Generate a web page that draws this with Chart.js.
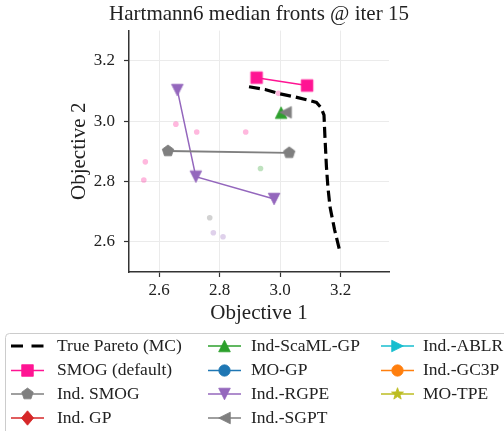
<!DOCTYPE html>
<html><head><meta charset="utf-8">
<script src="https://cdn.jsdelivr.net/npm/chart.js@4"></script>
<style>html,body{margin:0;padding:0;background:#fff}canvas{display:block}</style>
</head><body>
<canvas id="c" width="504" height="431"></canvas>
<script>
// ---- data ----
const xTicks = [2.6, 2.8, 3.0, 3.2];
const yTicks = [2.6, 2.8, 3.0, 3.2];

const paretoX = [2.897, 2.95, 2.993, 3.05, 3.09, 3.12, 3.135, 3.145, 3.148, 3.153, 3.158, 3.165, 3.18, 3.197];
const paretoY = [3.114, 3.105, 3.092, 3.08, 3.07, 3.062, 3.045, 3.02, 2.95, 2.85, 2.78, 2.715, 2.64, 2.57];

const smogX = [2.922, 3.089];
const smogY = [3.144, 3.118];
const indSmogX = [2.629, 3.030];
const indSmogY = [2.901, 2.895];
const rgpeX = [2.660, 2.721, 2.980];
const rgpeY = [3.103, 2.816, 2.742];
const scamlX = [3.003];
const scamlY = [3.028];
const sgptX = [3.018];
const sgptY = [3.029];

// faint per-run points
const smogRunsX = [2.554, 2.549, 2.655, 2.724, 2.886, 2.994];
const smogRunsY = [2.865, 2.805, 2.990, 2.964, 2.964, 3.092];
const scamlRunsX = [2.935];
const scamlRunsY = [2.843];
const sgptRunsX = [2.767];
const sgptRunsY = [2.680];
const rgpeRunsX = [2.779, 2.811];
const rgpeRunsY = [2.630, 2.617];

const legendLabels = ['True Pareto (MC)', 'SMOG (default)', 'Ind. SMOG', 'Ind. GP',
  'Ind-ScaML-GP', 'MO-GP', 'Ind.-RGPE', 'Ind.-SGPT',
  'Ind.-ABLR', 'Ind.-GC3P', 'MO-TPE'];
const legendColors = ['#000000', '#ff1493', '#7f7f7f', '#d62728',
  '#2ca02c', '#1f77b4', '#9467bd', '#7f7f7f',
  '#17becf', '#ff7f0e', '#bcbd22'];
const legendMarkers = ['dash', 'square', 'pentagon', 'diamond',
  'triUp', 'circle', 'triDown', 'triLeft',
  'triRight', 'circle', 'star'];

// ---- helpers ----
const FONT = "'Liberation Serif', 'Times New Roman', serif";
const TEXT = '#222222';
function pts(xs, ys) { return xs.map((x, i) => ({x: x, y: ys[i]})); }

function shapePath(ctx, kind, cx, cy) {
  ctx.beginPath();
  if (kind === 'square') {
    const h = 5.8; ctx.rect(cx - h, cy - h, 2 * h, 2 * h);
  } else if (kind === 'pentagon') {
    const r = 6.0;
    for (let i = 0; i < 5; i++) {
      const a = -Math.PI / 2 + i * 2 * Math.PI / 5;
      const px = cx + r * Math.cos(a), py = cy + r * Math.sin(a);
      i ? ctx.lineTo(px, py) : ctx.moveTo(px, py);
    }
    ctx.closePath();
  } else if (kind === 'diamond') {
    const r = 7.2;
    ctx.moveTo(cx, cy - r); ctx.lineTo(cx + r * 0.85, cy); ctx.lineTo(cx, cy + r); ctx.lineTo(cx - r * 0.85, cy); ctx.closePath();
  } else if (kind === 'circle') {
    ctx.arc(cx, cy, 5.7, 0, Math.PI * 2);
  } else if (kind === 'star') {
    const R = 6.3, r = 2.6;
    for (let i = 0; i < 10; i++) {
      const a = -Math.PI / 2 + i * Math.PI / 5, rr = i % 2 ? r : R;
      const px = cx + rr * Math.cos(a), py = cy + rr * Math.sin(a);
      i ? ctx.lineTo(px, py) : ctx.moveTo(px, py);
    }
    ctx.closePath();
  } else {
    const s = 5.8;
    let v;
    if (kind === 'triUp') v = [[0, -s], [-s, s], [s, s]];
    else if (kind === 'triDown') v = [[0, s], [-s, -s], [s, -s]];
    else if (kind === 'triLeft') v = [[-s, 0], [s, -s], [s, s]];
    else v = [[s, 0], [-s, -s], [-s, s]];
    ctx.moveTo(cx + v[0][0], cy + v[0][1]);
    ctx.lineTo(cx + v[1][0], cy + v[1][1]);
    ctx.lineTo(cx + v[2][0], cy + v[2][1]);
    ctx.closePath();
  }
}
function makeMarker(kind, color) {
  const c = document.createElement('canvas');
  c.width = 20; c.height = 20;
  const g = c.getContext('2d');
  shapePath(g, kind, 10, 10);
  g.fillStyle = color; g.fill();
  g.lineWidth = 0.8; g.strokeStyle = color; g.stroke();
  return c;
}

const mplLegend = {
  id: 'mplLegend',
  afterDraw(chart) {
    const ctx = chart.ctx;
    ctx.save();
    // frame
    const fx = 5.5, fy = 333.5, fw = 520, fh = 120, rr = 4;
    ctx.beginPath();
    ctx.moveTo(fx + rr, fy); ctx.lineTo(fx + fw - rr, fy); ctx.arcTo(fx + fw, fy, fx + fw, fy + rr, rr);
    ctx.lineTo(fx + fw, fy + fh - rr); ctx.arcTo(fx + fw, fy + fh, fx + fw - rr, fy + fh, rr);
    ctx.lineTo(fx + rr, fy + fh); ctx.arcTo(fx, fy + fh, fx, fy + fh - rr, rr);
    ctx.lineTo(fx, fy + rr); ctx.arcTo(fx, fy, fx + rr, fy, rr);
    ctx.closePath();
    ctx.fillStyle = 'rgba(255,255,255,0.8)'; ctx.fill();
    ctx.strokeStyle = '#cccccc'; ctx.lineWidth = 1; ctx.stroke();

    const colHandle = [11, 208, 381];
    const colText = [57, 251, 423];
    const rowY = [346, 370.5, 394, 418];
    const handleLen = 33;
    ctx.font = '17.5px ' + FONT;
    ctx.textBaseline = 'middle';
    ctx.textAlign = 'left';
    legendLabels.forEach((lab, i) => {
      const col = Math.floor(i / 4), row = i % 4;
      const x0 = colHandle[col], y = rowY[row];
      const color = legendColors[i];
      ctx.beginPath();
      ctx.moveTo(x0, y); ctx.lineTo(x0 + handleLen, y);
      if (legendMarkers[i] === 'dash') {
        ctx.setLineDash([12, 8.5]); ctx.lineWidth = 3.2;
      } else {
        ctx.setLineDash([]); ctx.lineWidth = 1.6;
      }
      ctx.strokeStyle = color; ctx.stroke();
      ctx.setLineDash([]);
      if (legendMarkers[i] !== 'dash') {
        shapePath(ctx, legendMarkers[i], x0 + handleLen / 2, y);
        ctx.fillStyle = color; ctx.fill();
        ctx.lineWidth = 0.8; ctx.stroke();
      }
      ctx.fillStyle = TEXT;
      ctx.fillText(lab, colText[col], y);
    });
    ctx.restore();
  }
};

Chart.defaults.font.family = FONT;
Chart.defaults.color = TEXT;

const faint = (xs, ys, rgba) => ({
  data: pts(xs, ys), showLine: false, pointRadius: 2.8, pointBackgroundColor: rgba,
  pointBorderWidth: 0, pointBorderColor: rgba, order: 20, yAxisID: 'y'
});

new Chart(document.getElementById('c'), {
  type: 'scatter',
  data: {
    datasets: [
      faint(smogRunsX, smogRunsY, 'rgba(255,20,147,0.30)'),
      faint(scamlRunsX, scamlRunsY, 'rgba(44,160,44,0.30)'),
      faint(sgptRunsX, sgptRunsY, 'rgba(127,127,127,0.35)'),
      faint(rgpeRunsX, rgpeRunsY, 'rgba(148,103,189,0.30)'),
      { label: legendLabels[0], data: pts(paretoX, paretoY), showLine: true, pointRadius: 0,
        borderColor: '#000', borderWidth: 3.2, borderDash: [11, 5], tension: 0, order: 10, yAxisID: 'y' },
      { label: legendLabels[1], data: pts(smogX, smogY), showLine: true, borderColor: '#ff1493', borderWidth: 1.5,
        pointStyle: makeMarker('square', '#ff1493'), pointRadius: 6, order: 4, yAxisID: 'y' },
      { label: legendLabels[2], data: pts(indSmogX, indSmogY), showLine: true, borderColor: '#7f7f7f', borderWidth: 1.8,
        pointStyle: makeMarker('pentagon', '#7f7f7f'), pointRadius: 6, order: 5, yAxisID: 'y' },
      { label: legendLabels[4], data: pts(scamlX, scamlY), showLine: true, borderColor: '#2ca02c', borderWidth: 1.5,
        pointStyle: makeMarker('triUp', '#2ca02c'), pointRadius: 6, order: 3, yAxisID: 'y' },
      { label: legendLabels[6], data: pts(rgpeX, rgpeY), showLine: true, borderColor: '#9467bd', borderWidth: 1.5,
        pointStyle: makeMarker('triDown', '#9467bd'), pointRadius: 6, order: 6, yAxisID: 'y' },
      { label: legendLabels[7], data: pts(sgptX, sgptY), showLine: true, borderColor: '#7f7f7f', borderWidth: 1.5,
        pointStyle: makeMarker('triLeft', '#7f7f7f'), pointRadius: 6, order: 2, yAxisID: 'y' }
    ]
  },
  options: {
    responsive: false,
    animation: false,
    devicePixelRatio: 1,
    layout: { padding: { left: 14, right: 0, top: 0, bottom: 103 } },
    plugins: {
      legend: { display: false },
      tooltip: { enabled: false },
      title: { display: true, text: 'Hartmann6 median fronts @ iter 15',
        font: { size: 21, weight: 'normal', lineHeight: 1.2 }, padding: { top: 2, bottom: 3.4 }, color: TEXT }
    },
    scales: {
      x: {
        type: 'linear', position: 'bottom', min: 2.5, max: 3.36,
        afterBuildTicks: s => { s.ticks = xTicks.map(v => ({value: v})); },
        afterFit: s => { s.height = 56; },
        ticks: { font: { size: 17 }, padding: 3, color: TEXT, maxRotation: 0, autoSkip: false,
          callback: v => Number(v).toFixed(1) },
        grid: { color: '#ebebeb', lineWidth: 1, tickLength: 5, tickColor: '#333', tickWidth: 1.2 },
        border: { color: '#333', width: 1.5 },
        title: { display: true, text: 'Objective 1', font: { size: 21, lineHeight: 1.2 },
          padding: { top: 0, bottom: 1.5 }, color: TEXT }
      },
      y: {
        type: 'linear', position: 'left', min: 2.5, max: 3.3,
        afterBuildTicks: s => { s.ticks = yTicks.map(v => ({value: v})); },
        afterFit: s => { s.width = 115; },
        ticks: { font: { size: 17 }, padding: 9, color: TEXT, autoSkip: false,
          callback: v => Number(v).toFixed(1) },
        grid: { color: '#ebebeb', lineWidth: 1, tickLength: 5, tickColor: '#333', tickWidth: 1.2 },
        border: { color: '#333', width: 1.5 },
        title: { display: true, text: 'Objective 2', font: { size: 21, lineHeight: 1.2 },
          padding: { top: 53, bottom: 0 }, color: TEXT }
      },
      yR: {
        type: 'linear', position: 'right', display: true,
        afterFit: s => { s.width = 115; },
        ticks: { display: false },
        grid: { display: false, drawTicks: false },
        border: { display: false }
      }
    }
  },
  plugins: [mplLegend]
});
</script>
</body></html>
